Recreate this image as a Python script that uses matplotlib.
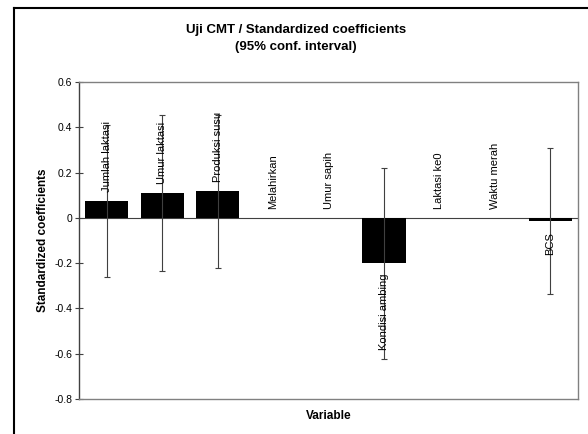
import matplotlib
matplotlib.use('Agg')
import matplotlib.pyplot as plt
from matplotlib.lines import Line2D
import numpy as np

plt.rcParams['font.family'] = ['Liberation Sans', 'DejaVu Sans']

# ---- data ----
categories = ['Jumlah laktasi', 'Umur laktasi', 'Produksi susu', 'Melahirkan',
              'Umur sapih', 'Kondisi ambing', 'Laktasi ke0', 'Waktu merah', 'BCS']
coef = [0.075, 0.110, 0.117, 0.0, 0.0, -0.200, 0.0, 0.0, -0.015]
ci_low = [-0.262, -0.235, -0.220, 0.0, 0.0, -0.622, 0.0, 0.0, -0.338]
ci_high = [0.412, 0.455, 0.454, 0.0, 0.0, 0.218, 0.0, 0.0, 0.308]
yticks = [0.6, 0.4, 0.2, 0, -0.2, -0.4, -0.6, -0.8]
ytick_labels = ['0.6', '0.4', '0.2', '0', '-0.2', '-0.4', '-0.6', '-0.8']

W, H = 588, 434
fig = plt.figure(figsize=(W / 100, H / 100), dpi=100)
fig.patch.set_facecolor('white')
ax = fig.add_axes([79 / W, 1 - 399 / H, (578 - 79) / W, (399 - 82) / H])

x = np.arange(len(categories))
coef = np.array(coef)
has_ci = np.array(ci_high) != np.array(ci_low)
err = np.vstack([coef - np.array(ci_low), np.array(ci_high) - coef])

ax.bar(x, coef, width=0.78, color='black', linewidth=0, zorder=2)
ax.errorbar(x[has_ci], coef[has_ci], yerr=err[:, has_ci], fmt='none',
            ecolor='#404040', elinewidth=0.8, capsize=2.5, capthick=0.8, zorder=3)
ax.axhline(0, color='#404040', lw=0.8, zorder=1)

# data labels (rotated, outside end)
for xi, v, name in zip(x, coef, categories):
    if v < 0:
        ax.annotate(name, (xi, v), xytext=(0, -7.5), textcoords='offset points',
                    rotation=90, ha='center', va='top', fontsize=8, zorder=4)
    else:
        ax.annotate(name, (xi, v), xytext=(0, 6.5), textcoords='offset points',
                    rotation=90, ha='center', va='bottom', fontsize=8, zorder=4)

ax.set_xlim(-0.5, len(categories) - 0.5)
ax.set_ylim(-0.8, 0.6)
ax.set_yticks(yticks)
ax.set_yticklabels(ytick_labels, fontsize=7.5)
ax.set_xticks([])
ax.tick_params(axis='y', direction='inout', length=6, width=0.8, color='#404040', pad=2)
for s in ax.spines.values():
    s.set_color('#808080')
    s.set_linewidth(1.0)
ax.spines['left'].set_color('#404040')

ax.set_xlabel('Variable', fontsize=8.5, fontweight='bold')
ax.set_ylabel('Standardized coefficients', fontsize=8.5, fontweight='bold')
ax.xaxis.set_label_coords(0.5, -(416 - 399) / 317)
ax.yaxis.set_label_coords((43 - 79) / 499, 0.5)
ax.xaxis.label.set_va('center')
ax.yaxis.label.set_va('center')

fig.text(296 / W, 1 - 30 / H, 'Uji CMT / Standardized coefficients',
         ha='center', va='center', fontsize=9.5, fontweight='bold')
fig.text(296 / W, 1 - 47 / H, '(95% conf. interval)',
         ha='center', va='center', fontsize=9.5, fontweight='bold')

# outer chart frame (top and left edges visible)
fig.add_artist(Line2D([14 / W, 1], [1 - 8 / H, 1 - 8 / H], transform=fig.transFigure,
                      color='black', lw=1.5))
fig.add_artist(Line2D([14 / W, 14 / W], [0, 1 - 8 / H], transform=fig.transFigure,
                      color='black', lw=1.5))

fig.savefig('out.png', dpi=100, facecolor='white')
